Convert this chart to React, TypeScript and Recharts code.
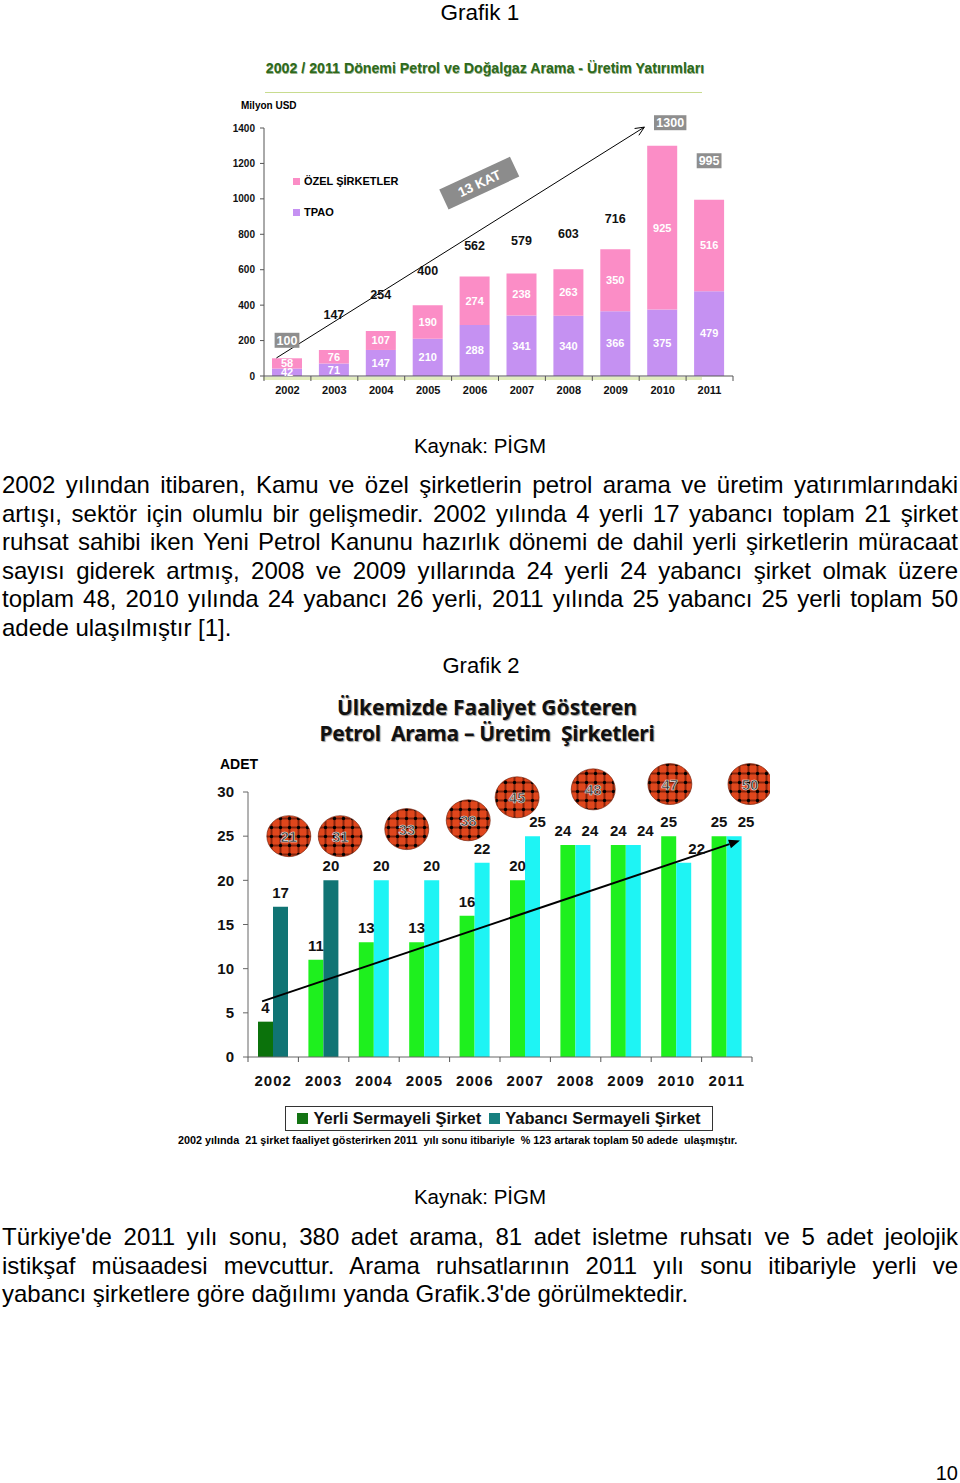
import React from 'react';
import { BarChart, Bar, XAxis, YAxis, LabelList, ReferenceLine, ReferenceDot, Cell } from 'recharts';

// ---- data ----
const YEARS = ['2002', '2003', '2004', '2005', '2006', '2007', '2008', '2009', '2010', '2011'];

// Grafik 1 (Milyon USD)
const TPAO = [42, 71, 147, 210, 288, 341, 340, 366, 375, 479];
const OZEL = [58, 76, 107, 190, 274, 238, 263, 350, 925, 516];
const TOPLAM_USD = [100, 147, 254, 400, 562, 579, 603, 716, 1300, 995];
const USD_TICKS = [0, 200, 400, 600, 800, 1000, 1200, 1400];

// Grafik 2 (adet)
const YERLI = [4, 11, 13, 13, 16, 20, 24, 24, 25, 25];
const YABANCI = [17, 20, 20, 20, 22, 25, 24, 24, 22, 25];
const ADET_TICKS = [0, 5, 10, 15, 20, 25, 30];
const TOPLAM_ADET = ['21', '31', '33', '38', '45', '48', '47', '50'];

// ---- layout tweaks (not data) ----
const TOTAL_LIFT = [18, 35, 37, 35, 31, 33, 36, 31, 23, 39];
const BOXED = [0, 8, 9];
const BADGE_POS: [number, number][] = [
  [0.31, 25], [1.33, 25], [2.65, 25.8], [3.87, 26.8],
  [4.84, 29.4], [6.35, 30.3], [7.87, 30.9], [9.46, 30.9],
];
const YER_DX = [0, 0, 0, 0, 0, 0, -5, 0, 0, 0];
const YAB_DX = [0, 0, 0, 0, 0, 5, 7, 12, 13, 12];

// category position (band index) -> hidden numeric axis value
const nx = (idx: number) => (idx + 0.5) * 0.9;

const PINK = '#fb8dc6';
const PURPLE = '#c591f2';

const rows1 = YEARS.map((y, i) => ({ year: y, tpao: TPAO[i], ozel: OZEL[i], total: TOPLAM_USD[i] }));
const rows2 = YEARS.map((y, i) => ({ year: y, yerli: YERLI[i], yabanci: YABANCI[i] }));

function YearTick(props: any) {
  const { x, y, payload, index, visibleTicksCount, half, dy, fs, ls } = props;
  const h = payload && payload.offset ? payload.offset : half;
  return (
    <g>
      <line x1={x - h} x2={x - h} y1={y} y2={y + 5} stroke="#555" />
      {index === visibleTicksCount - 1 && <line x1={x + h} x2={x + h} y1={y} y2={y + 5} stroke="#555" />}
      <text x={x} y={y + dy} textAnchor="middle" fontSize={fs} fontWeight="bold" fill="#111" letterSpacing={ls}>
        {payload.value}
      </text>
    </g>
  );
}

function Arrow(p: any, width: number, filled: boolean) {
  const { x1, y1, x2, y2 } = p;
  const a = Math.atan2(y2 - y1, x2 - x1);
  const L = filled ? 11 : 9;
  const W = filled ? 4.5 : 4;
  const bx = x2 - L * Math.cos(a);
  const by = y2 - L * Math.sin(a);
  const p1 = [bx - W * Math.sin(a), by + W * Math.cos(a)];
  const p2 = [bx + W * Math.sin(a), by - W * Math.cos(a)];
  return (
    <g>
      <line x1={x1} y1={y1} x2={filled ? bx : x2} y2={filled ? by : y2} stroke="#000" strokeWidth={width} />
      {filled ? (
        <polygon points={`${x2},${y2} ${p1[0]},${p1[1]} ${p2[0]},${p2[1]}`} fill="#000" />
      ) : (
        <polyline points={`${p1[0]},${p1[1]} ${x2},${y2} ${p2[0]},${p2[1]}`} fill="none" stroke="#000" strokeWidth={width} />
      )}
    </g>
  );
}

function boxOf(props: any) {
  const vb = props.viewBox || props;
  return {
    x: vb.x ?? props.x,
    y: vb.y ?? props.y,
    w: vb.width ?? props.width,
    i: props.index,
  };
}

function TotalLabel(props: any) {
  const { x, y, w, i } = boxOf(props);
  const cx = x + w / 2 + (i === 8 ? 8 : 0);
  const cy = y - TOTAL_LIFT[i];
  const txt = String(TOPLAM_USD[i]);
  if (BOXED.includes(i)) {
    const bw = txt.length * 7.6 + 2;
    return (
      <g>
        <rect x={cx - bw / 2} y={cy - 7.5} width={bw} height={15} fill="#8e8e8e" />
        <text x={cx} y={cy + 4.5} textAnchor="middle" fontSize={12.5} fontWeight="bold" fill="#fff">{txt}</text>
      </g>
    );
  }
  return (
    <text x={cx} y={cy + 4.5} textAnchor="middle" fontSize={12.5} fontWeight="bold" fill="#111">{txt}</text>
  );
}

function topLabel(values: number[], dxs: number[]) {
  return (props: any) => {
    const { x, y, w, i } = boxOf(props);
    return (
      <text x={x + w / 2 + dxs[i]} y={y - 9} textAnchor="middle" fontSize={15} fontWeight="bold" fill="#111">
        {values[i]}
      </text>
    );
  };
}

function KatBox(p: any) {
  const { cx, cy } = p;
  return (
    <g transform={`rotate(-25 ${cx} ${cy})`}>
      <rect x={cx - 39} y={cy - 11} width={78} height={22} fill="#8c8c8c" />
      <text x={cx} y={cy + 5} textAnchor="middle" fontSize={13.5} fontWeight="bold" fill="#fff">13 KAT</text>
    </g>
  );
}

function Badge(label: string) {
  return (p: any) => (
    <g>
      <ellipse cx={p.cx} cy={p.cy} rx={22} ry={20.5} fill="url(#plaid)" stroke="#6a1600" strokeWidth={0.6} />
      <text x={p.cx} y={p.cy + 5.5} textAnchor="middle" fontSize={15} fontWeight="bold" fill="#2a2a2a" stroke="#e8e8e8" strokeWidth={0.6}>
        {label}
      </text>
    </g>
  );
}

const para1 = [
  '2002 yılından itibaren, Kamu ve özel şirketlerin petrol arama ve üretim yatırımlarındaki',
  'artışı, sektör için olumlu bir gelişmedir. 2002 yılında 4 yerli 17 yabancı toplam 21 şirket',
  'ruhsat sahibi iken Yeni Petrol Kanunu hazırlık dönemi de dahil yerli şirketlerin müracaat',
  'sayısı giderek artmış, 2008 ve 2009 yıllarında 24 yerli 24 yabancı şirket olmak üzere',
  'toplam 48, 2010 yılında 24 yabancı 26 yerli, 2011 yılında 25 yabancı 25 yerli toplam 50',
  'adede ulaşılmıştır [1].',
];
const para2 = [
  "Türkiye'de 2011 yılı sonu, 380 adet arama, 81 adet isletme ruhsatı ve 5 adet jeolojik",
  'istikşaf müsaadesi mevcuttur. Arama ruhsatlarının 2011 yılı sonu itibariyle yerli ve',
  "yabancı şirketlere göre dağılımı yanda Grafik.3'de görülmektedir.",
];

function Para({ top, lines }: { top: number; lines: string[] }) {
  return (
    <div style={{ position: 'absolute', left: 2, top, width: 956, fontSize: 24, lineHeight: '28.6px', color: '#000' }}>
      {lines.map((l, i) => {
        const last = i === lines.length - 1;
        return (
          <div key={i} style={{ textAlign: last ? 'left' : 'justify', textAlignLast: last ? 'left' : 'justify' } as any}>
            {l}
          </div>
        );
      })}
    </div>
  );
}

const abs = (o: React.CSSProperties): React.CSSProperties => ({ position: 'absolute', ...o });

export default function App() {
  return (
    <div style={{ position: 'absolute', left: 0, top: 0, width: 960, height: 1483, background: '#fff', overflow: 'hidden', fontFamily: '"Liberation Sans", Arial, sans-serif' }}>
      <div style={abs({ left: 0, top: 0, width: 960, textAlign: 'center', fontSize: 22.5, lineHeight: '25px' })}>Grafik 1</div>

      <div style={abs({ left: 185, top: 60, width: 600, textAlign: 'center', fontSize: 14.2, fontWeight: 'bold', color: '#2d6a1c', lineHeight: '17px', textShadow: '0.5px 0.5px 0.5px #9bb08a' })}>
        2002 / 2011 Dönemi Petrol ve Doğalgaz Arama - Üretim Yatırımları
      </div>
      <div style={abs({ left: 265, top: 92, width: 437, height: 1, background: '#c8dc8f' })} />
      <div style={abs({ left: 241, top: 100, fontSize: 10, fontWeight: 'bold', lineHeight: '12px' })}>Milyon USD</div>
      <div style={abs({ left: 263, top: 377, width: 439, height: 3, background: '#e2ecbe' })} />

      <div style={abs({ left: 200, top: 100 })}>
        <BarChart width={560} height={300} data={rows1} margin={{ top: 28, right: 27, bottom: 0, left: 0 }}>
          <XAxis
            dataKey="year"
            height={24}
            interval={0}
            tickLine={false}
            tickSize={0}
            tickMargin={0}
            axisLine={{ stroke: '#555' }}
            tick={(p: any) => <YearTick {...p} half={23.45} dy={18} fs={11} ls={0} />}
          />
          <XAxis xAxisId="n" type="number" domain={[-0.5, 9.5]} allowDataOverflow hide />
          <YAxis
            width={64}
            domain={[0, 1400]}
            ticks={USD_TICKS}
            interval={0}
            tickSize={4}
            tickMargin={5}
            axisLine={{ stroke: '#555' }}
            tickLine={{ stroke: '#555' }}
            tick={{ fontSize: 10, fontWeight: 'bold', fill: '#111' }}
          />
          <Bar dataKey="tpao" stackId="a" fill={PURPLE} barSize={30} isAnimationActive={false}>
            <LabelList dataKey="tpao" position="center" fill="#fff" fontSize={11} fontWeight="bold" />
          </Bar>
          <Bar dataKey="ozel" stackId="a" fill={PINK} barSize={30} isAnimationActive={false}>
            <LabelList dataKey="ozel" position="center" fill="#fff" fontSize={11} fontWeight="bold" />
            <LabelList dataKey="total" content={TotalLabel} />
          </Bar>
          <ReferenceLine
            xAxisId="n"
            ifOverflow="visible"
            segment={[{ x: nx(-0.235), y: 102 }, { x: nx(7.61), y: 1405 }]}
            shape={(p: any) => Arrow(p, 1, false)}
          />
          <ReferenceDot xAxisId="n" x={nx(4.09)} y={1089} r={0} ifOverflow="visible" shape={KatBox} />
        </BarChart>
      </div>

      <div style={abs({ left: 293, top: 174, fontSize: 11, fontWeight: 'bold', lineHeight: '14px' })}>
        <div style={{ display: 'flex', alignItems: 'center' }}>
          <span style={{ width: 7, height: 7, background: PINK, marginRight: 4, display: 'inline-block' }} />ÖZEL ŞİRKETLER
        </div>
        <div style={{ display: 'flex', alignItems: 'center', marginTop: 17 }}>
          <span style={{ width: 7, height: 7, background: PURPLE, marginRight: 4, display: 'inline-block' }} />TPAO
        </div>
      </div>

      <div style={abs({ left: 0, top: 434, width: 960, textAlign: 'center', fontSize: 20.5, lineHeight: '24px' })}>Kaynak: PİGM</div>

      <Para top={471} lines={para1} />

      <div style={abs({ left: 0, top: 654, width: 962, textAlign: 'center', fontSize: 22, lineHeight: '24px' })}>Grafik 2</div>

      <div style={abs({ left: 237, top: 694, width: 500, textAlign: 'center', fontSize: 21, fontWeight: 'bold', lineHeight: '26px', fontFamily: '"Noto Sans", sans-serif', color: '#111', textShadow: '1px 1px 1px #999' })}>
        <div>Ülkemizde Faaliyet Gösteren</div>
        <div style={{ whiteSpace: 'pre', letterSpacing: -0.3 }}>Petrol  Arama – Üretim  Şirketleri</div>
      </div>
      <div style={abs({ left: 220, top: 756, fontSize: 14, fontWeight: 'bold', lineHeight: '16px' })}>ADET</div>

      <div style={abs({ left: 150, top: 760 })}>
        <BarChart width={620} height={330} data={rows2} margin={{ top: 32, right: 18, bottom: 0, left: 0 }} barGap={0}>
          <defs>
            <pattern id="plaid" width="9" height="9" patternUnits="userSpaceOnUse">
              <rect width="9" height="9" fill="#e0461c" />
              <rect x="3.5" width="2" height="9" fill="#3a0800" opacity={0.55} />
              <rect y="3.5" width="9" height="2" fill="#3a0800" opacity={0.55} />
              <circle cx="4.5" cy="4.5" r="1.7" fill="#000" />
            </pattern>
          </defs>
          <XAxis
            dataKey="year"
            height={33}
            interval={0}
            tickLine={false}
            tickSize={0}
            tickMargin={0}
            axisLine={{ stroke: '#666' }}
            tick={(p: any) => <YearTick {...p} half={25.2} dy={29} fs={15} ls={1} />}
          />
          <XAxis xAxisId="n" type="number" domain={[-0.5, 9.5]} allowDataOverflow hide />
          <YAxis
            width={98}
            domain={[0, 30]}
            ticks={ADET_TICKS}
            interval={0}
            tickSize={5}
            tickMargin={9}
            axisLine={{ stroke: '#666' }}
            tickLine={{ stroke: '#666' }}
            tick={{ fontSize: 15, fontWeight: 'bold', fill: '#111' }}
          />
          <Bar dataKey="yerli" barSize={15} isAnimationActive={false}>
            {rows2.map((_, i) => (
              <Cell key={`y-${i}`} fill={i === 0 ? '#0b720b' : '#1ef01e'} />
            ))}
            <LabelList dataKey="yerli" content={topLabel(YERLI, YER_DX)} />
          </Bar>
          <Bar dataKey="yabanci" barSize={15} isAnimationActive={false}>
            {rows2.map((_, i) => (
              <Cell key={`f-${i}`} fill={i < 2 ? '#107474' : '#1ef4f4'} />
            ))}
            <LabelList dataKey="yabanci" content={topLabel(YABANCI, YAB_DX)} />
          </Bar>
          <ReferenceLine
            xAxisId="n"
            ifOverflow="visible"
            segment={[{ x: nx(-0.22), y: 6.3 }, { x: nx(9.26), y: 24.5 }]}
            shape={(p: any) => Arrow(p, 2, true)}
          />
          {TOPLAM_ADET.map((t, i) => (
            <ReferenceDot key={t} xAxisId="n" x={nx(BADGE_POS[i][0])} y={BADGE_POS[i][1]} r={0} ifOverflow="visible" shape={Badge(t)} />
          ))}
        </BarChart>
      </div>

      <div style={abs({ left: 285, top: 1106, width: 426, height: 23, border: '1px solid #333', fontSize: 16.5, fontWeight: 'bold', lineHeight: '23px', display: 'flex', alignItems: 'center', justifyContent: 'center', color: '#111' })}>
        <span style={{ width: 11, height: 11, background: '#137313', marginRight: 5, display: 'inline-block' }} />
        Yerli Sermayeli Şirket
        <span style={{ width: 11, height: 11, background: '#177f7f', marginLeft: 8, marginRight: 5, display: 'inline-block' }} />
        Yabancı Sermayeli Şirket
      </div>
      <div style={abs({ left: 178, top: 1133, width: 565, whiteSpace: 'pre', fontSize: 10.8, fontWeight: 'bold', lineHeight: '14px', fontFamily: '"Liberation Sans Narrow", "Liberation Sans", sans-serif' })}>
        2002 yılında  21 şirket faaliyet gösterirken 2011  yılı sonu itibariyle  % 123 artarak toplam 50 adede  ulaşmıştır.
      </div>

      <div style={abs({ left: 0, top: 1185, width: 960, textAlign: 'center', fontSize: 20.5, lineHeight: '24px' })}>Kaynak: PİGM</div>

      <Para top={1223} lines={para2} />

      <div style={abs({ left: 900, top: 1461, width: 58, textAlign: 'right', fontSize: 20, lineHeight: '24px' })}>10</div>
    </div>
  );
}
